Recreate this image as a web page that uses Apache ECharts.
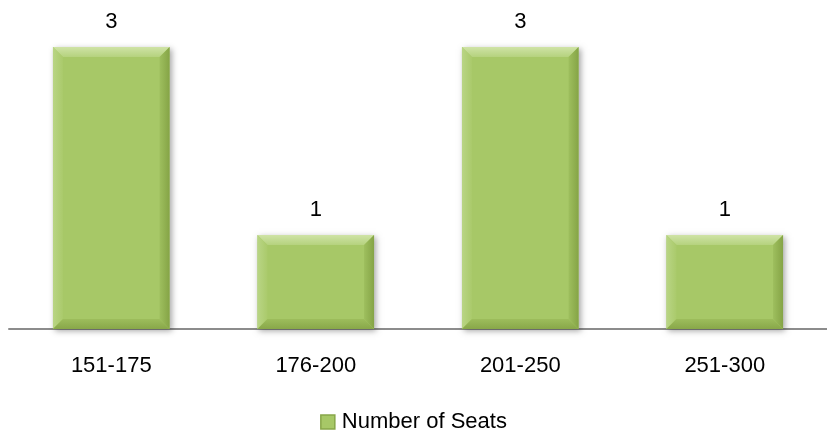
<!DOCTYPE html>
<html>
<head>
<meta charset="utf-8">
<script src="https://cdn.jsdelivr.net/npm/echarts@6/dist/echarts.min.js"></script>
<style>
  html, body { margin: 0; padding: 0; background: #fff; }
  #seatChart { width: 827px; height: 434px; }
</style>
</head>
<body>
<div id="seatChart"></div>
<script>
// data
var categories = ['151-175', '176-200', '201-250', '251-300']
var seatCounts = [3, 1, 3, 1]
var seriesName = 'Number of Seats'

var seatChart = echarts.init(document.getElementById('seatChart'))

// bevelled bar drawn from the axis scale
function renderBevelBar(params, api) {
  var top = api.coord([api.value(0), api.value(1)])
  var base = api.coord([api.value(0), 0])
  var size = api.size([1, 0])
  var w = size[0] * 0.57
  var x0 = top[0] - w / 2
  var x1 = top[0] + w / 2
  var y0 = top[1]
  var y1 = base[1]
  var b = 10 // bevel width
  return {
    type: 'group',
    children: [
      {
        type: 'rect',
        shape: { x: x0, y: y0, width: w, height: y1 - y0 },
        style: {
          fill: '#A7C867',
          shadowBlur: 6,
          shadowOffsetX: 2,
          shadowOffsetY: 2,
          shadowColor: 'rgba(0,0,0,0.35)'
        }
      },
      { // top bevel
        type: 'polygon',
        shape: { points: [[x0, y0], [x1, y0], [x1 - b, y0 + b], [x0 + b, y0 + b]] },
        style: {
          fill: new echarts.graphic.LinearGradient(0, 0, 0, 1, [
            { offset: 0, color: '#CFE3A6' },
            { offset: 1, color: '#B5D27E' }
          ])
        }
      },
      { // left bevel
        type: 'polygon',
        shape: { points: [[x0, y0], [x0 + b, y0 + b], [x0 + b, y1 - b], [x0, y1]] },
        style: {
          fill: new echarts.graphic.LinearGradient(0, 0, 1, 0, [
            { offset: 0, color: '#B9D585' },
            { offset: 1, color: '#AACA6B' }
          ])
        }
      },
      { // right bevel
        type: 'polygon',
        shape: { points: [[x1, y0], [x1 - b, y0 + b], [x1 - b, y1 - b], [x1, y1]] },
        style: {
          fill: new echarts.graphic.LinearGradient(0, 0, 1, 0, [
            { offset: 0, color: '#9EBF5E' },
            { offset: 1, color: '#85A446' }
          ])
        }
      },
      { // bottom bevel
        type: 'polygon',
        shape: { points: [[x0, y1], [x0 + b, y1 - b], [x1 - b, y1 - b], [x1, y1]] },
        style: {
          fill: new echarts.graphic.LinearGradient(0, 0, 0, 1, [
            { offset: 0, color: '#9DBD5C' },
            { offset: 1, color: '#88A749' }
          ])
        }
      },
      {
        type: 'text',
        x: top[0],
        y: y0 - 14,
        style: {
          text: String(api.value(1)),
          fill: '#000',
          font: '22px "Liberation Sans"',
          align: 'center',
          verticalAlign: 'bottom'
        }
      }
    ]
  }
}

var option = {
  animation: false,
  grid: {
    left: 9,
    right: 0,
    top: 47,
    bottom: 105
  },
  legend: {
    top: 406,
    left: 'center',
    icon: 'rect',
    itemWidth: 14,
    itemHeight: 14,
    itemGap: 4,
    textStyle: {
      color: '#000',
      fontSize: 22,
      fontFamily: 'Liberation Sans',
      padding: [0, 0, 0, 2]
    },
    data: [{ name: seriesName, itemStyle: { color: '#A7C867', borderColor: '#88A749', borderWidth: 1.5 } }]
  },
  xAxis: {
    type: 'category',
    data: categories,
    axisLine: {
      lineStyle: { color: '#8C8C8C', width: 2 }
    },
    axisTick: { show: false },
    axisLabel: {
      color: '#000',
      fontSize: 22,
      fontFamily: 'Liberation Sans',
      margin: 26
    }
  },
  yAxis: {
    type: 'value',
    min: 0,
    max: 3,
    show: false,
    splitLine: { show: false }
  },
  series: [
    {
      name: seriesName,
      type: 'custom',
      renderItem: renderBevelBar,
      itemStyle: { color: '#A7C867' },
      encode: { x: 0, y: 1 },
      data: seatCounts.map(function(v, i) { return [i, v] })
    }
  ]
}
seatChart.setOption(option)
</script>
</body>
</html>
